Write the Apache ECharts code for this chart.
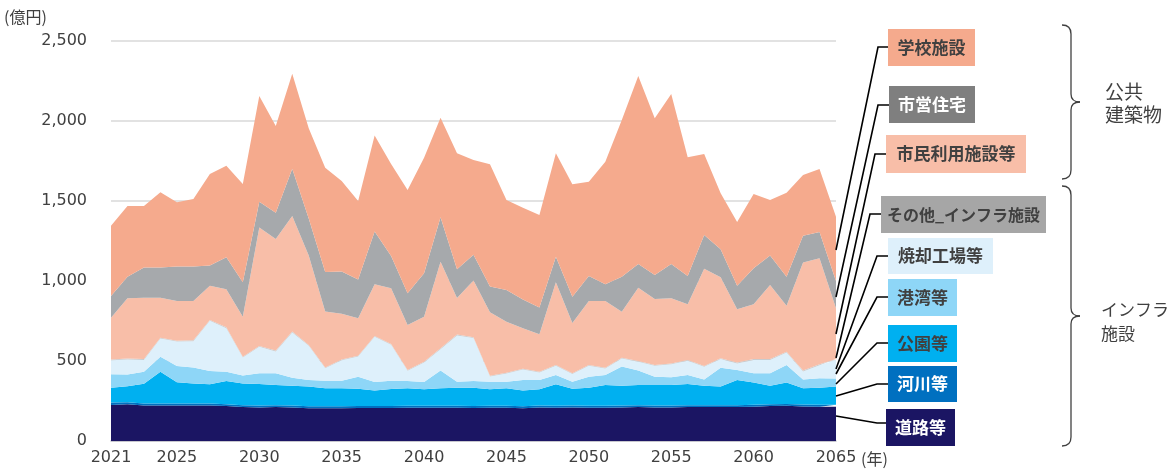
<!DOCTYPE html>
<html lang="ja">
<head>
<meta charset="UTF-8">
<title>更新費用の推計</title>
<script src="https://cdn.jsdelivr.net/npm/echarts@6/dist/echarts.min.js"></script>
<style>
  html, body { margin: 0; padding: 0; background: #fff; }
  #mainChart { width: 1173px; height: 471px; }
</style>
</head>
<body>
<div id="mainChart"></div>
<script>
// --- データ（単位：億円） ---
const years = ['2021','2022','2023','2024','2025','2026','2027','2028','2029','2030',
  '2031','2032','2033','2034','2035','2036','2037','2038','2039','2040',
  '2041','2042','2043','2044','2045','2046','2047','2048','2049','2050',
  '2051','2052','2053','2054','2055','2056','2057','2058','2059','2060',
  '2061','2062','2063','2064','2065'];

const yTicks = [0, 500, 1000, 1500, 2000, 2500];

// 下から積み上げる順
const roadData   = [225,230,222,222,222,222,222,218,212,210,212,210,205,205,205,206,207,207,208,208,208,208,206,208,208,205,210,208,210,208,208,210,212,210,210,212,212,212,212,214,218,220,216,214,214];
const riverData  = [15,12,12,12,12,12,12,12,12,12,12,12,12,12,12,12,12,12,12,12,12,12,12,12,12,12,12,12,12,12,12,12,12,12,12,12,12,12,12,12,12,12,12,12,12];
const parkData   = [93,100,124,199,133,126,120,145,136,134,126,124,123,112,112,109,96,106,109,103,109,113,115,103,109,98,101,134,105,113,130,124,126,128,128,132,122,116,157,139,116,133,101,107,114];
const portData   = [84,73,75,94,102,100,83,58,50,67,73,50,41,48,48,75,54,52,46,46,111,38,42,48,42,66,58,59,44,69,63,119,90,52,48,57,39,118,63,58,77,110,56,59,50];
const incinData  = [88,95,74,114,153,164,314,272,112,166,137,282,214,78,128,126,282,224,64,122,134,289,268,32,51,66,47,57,47,68,40,51,55,68,82,88,79,54,41,84,84,78,50,82,117];
const otherData  = [5,5,5,5,5,5,6,6,5,5,5,6,5,5,5,5,6,5,5,5,5,6,6,5,5,5,5,5,5,5,5,5,5,5,5,5,5,5,5,5,5,5,5,5,5];
const civicData  = [261,377,384,250,248,246,213,238,250,741,698,723,560,350,285,234,323,348,281,281,542,227,354,396,319,252,234,517,315,400,417,287,458,413,407,348,608,506,333,342,463,288,675,663,318];
const housingData= [135,135,189,189,215,215,127,200,215,161,164,294,230,246,265,243,329,202,198,271,277,181,161,161,198,181,168,160,164,156,104,219,148,150,214,177,211,175,148,225,185,181,168,164,170];
const schoolData = [440,442,384,469,402,422,571,571,614,660,542,594,564,652,565,490,600,575,646,723,623,725,593,764,562,573,578,646,702,590,767,979,1175,979,1063,742,506,350,398,465,346,525,380,394,402];

const seriesNames = ['道路等','河川等','公園等','港湾等','焼却工場等','その他_インフラ施設','市民利用施設等','市営住宅','学校施設'];
const seriesData  = [roadData, riverData, parkData, portData, incinData, otherData, civicData, housingData, schoolData];
const areaColors  = ['#1B1563','#0070C0','#00B0F0','#8ED6F7','#DEF0FB','#C9CCCF','#F8BEA8','#A6A9AC','#F5AA8D'];

// 右側ラベル（上から）: [名前, 箱の色, 文字色, x, y, 幅, 高さ, 文字サイズ]
const labelBoxes = [
  ['学校施設',           '#F5AA8D', '#404040', 888, 29, 87, 37, 17],
  ['市営住宅',           '#7F7F7F', '#ffffff', 889, 86, 86, 37, 17],
  ['市民利用施設等',     '#F8BEA8', '#404040', 886, 135, 140, 38, 17],
  ['その他_インフラ施設', '#A6A6A6', '#404040', 881, 196, 165, 37, 16],
  ['焼却工場等',         '#DEF0FB', '#404040', 888, 238, 105, 36, 17],
  ['港湾等',             '#8ED6F7', '#404040', 888, 279, 69, 37, 17],
  ['公園等',             '#00B0F0', '#404040', 888, 325, 69, 37, 17],
  ['河川等',             '#0070C0', '#ffffff', 888, 366, 69, 36, 17],
  ['道路等',             '#1B1563', '#ffffff', 886, 409, 69, 37, 17]
];

// 引き出し線（グラフ右端 → 折れ点 → 箱）
const leaderLines = [
  [[836,250],[878,47],[888,47]],
  [[836,297],[878,105],[889,105]],
  [[836,334],[875,154],[886,154]],
  [[836,358],[870,214],[881,214]],
  [[836,369],[877,256],[888,256]],
  [[836,374],[877,297],[888,297]],
  [[836,384],[877,343],[888,343]],
  [[836,396],[877,384],[888,384]],
  [[836,416],[877,423],[886,423]]
];

const JP_FONT = '"Noto Sans CJK JP", sans-serif';
const BRACE_STYLE = { stroke: '#404040', lineWidth: 1.3, fill: null };

// 中括弧（曲線と直線の組み合わせ）
function bracePieces(x, y1, y2) {
  const ym = (y1 + y2) / 2;
  const r = 9;
  return [
    { type: 'bezierCurve', shape: { x1: x, y1: y1, cpx1: x + r, cpy1: y1, x2: x + r, y2: y1 + r }, style: BRACE_STYLE },
    { type: 'line', shape: { x1: x + r, y1: y1 + r, x2: x + r, y2: ym - 8 }, style: BRACE_STYLE },
    { type: 'bezierCurve', shape: { x1: x + r, y1: ym - 8, cpx1: x + r, cpy1: ym, x2: x + 2 * r, y2: ym }, style: BRACE_STYLE },
    { type: 'bezierCurve', shape: { x1: x + 2 * r, y1: ym, cpx1: x + r, cpy1: ym, x2: x + r, y2: ym + 8 }, style: BRACE_STYLE },
    { type: 'line', shape: { x1: x + r, y1: ym + 8, x2: x + r, y2: y2 - r }, style: BRACE_STYLE },
    { type: 'bezierCurve', shape: { x1: x + r, y1: y2 - r, cpx1: x + r, cpy1: y2, x2: x, y2: y2 }, style: BRACE_STYLE }
  ];
}

function buildGraphics() {
  const g = [];
  // 単位
  g.push({ type: 'text', left: 4, top: 9,
    style: { text: '(億円)', font: '16px ' + JP_FONT, fill: '#404040' } });
  g.push({ type: 'text', left: 861, top: 451,
    style: { text: '(年)', font: '16px ' + JP_FONT, fill: '#404040' } });

  leaderLines.forEach(pts => {
    g.push({ type: 'polyline', shape: { points: pts },
      style: { stroke: '#000', lineWidth: 1.6, fill: null }, z: 10 });
  });

  labelBoxes.forEach(b => {
    g.push({ type: 'rect', shape: { x: b[3], y: b[4], width: b[5], height: b[6] },
      style: { fill: b[1] }, z: 11 });
    g.push({ type: 'text', x: b[3] + b[5] / 2, y: b[4] + b[6] / 2,
      style: { text: b[0], fill: b[2], font: 'bold ' + b[7] + 'px ' + JP_FONT,
        textAlign: 'center', textVerticalAlign: 'middle' }, z: 12 });
  });

  // グループの括弧と見出し
  bracePieces(1062, 25, 179).forEach(p => g.push(p));
  bracePieces(1062, 186, 446).forEach(p => g.push(p));
  g.push({ type: 'text', left: 1105, top: 80,
    style: { text: '公共\n建築物', font: '19px ' + JP_FONT, fill: '#404040', lineHeight: 23 } });
  g.push({ type: 'text', left: 1101, top: 298,
    style: { text: 'インフラ\n施設', font: '17px ' + JP_FONT, fill: '#404040', lineHeight: 24 } });
  return g;
}

function drawAreaChart() {
  const chartDom = document.getElementById('mainChart');
  const myChart = echarts.init(chartDom);

  const series = seriesNames.map((name, i) => ({
    name: name,
    type: 'line',
    stack: 'total',
    data: seriesData[i],
    symbol: 'none',
    lineStyle: { width: 0 },
    areaStyle: { color: areaColors[i], opacity: 1 },
    itemStyle: { color: areaColors[i] },
    emphasis: { disabled: true }
  }));

  const option = {
    animation: false,
    textStyle: { fontFamily: JP_FONT },
    grid: { left: 111, right: 337, top: 41, bottom: 30 },
    xAxis: {
      type: 'category',
      boundaryGap: false,
      data: years,
      axisLine: { lineStyle: { color: '#BFBFC8', width: 1.5 } },
      axisTick: { show: false },
      axisLabel: {
        // 2021年と5年ごとだけ表示
        interval: (idx, val) => idx === 0 || Number(val) % 5 === 0,
        color: '#404040',
        fontSize: 16,
        fontFamily: '"DejaVu Sans", sans-serif',
        margin: 9
      }
    },
    yAxis: {
      type: 'value',
      min: yTicks[0],
      max: yTicks[yTicks.length - 1],
      interval: 500,
      axisLine: { show: false },
      axisTick: { show: false },
      axisLabel: {
        formatter: v => v.toLocaleString('en-US'),
        color: '#404040',
        fontSize: 16,
        fontFamily: '"DejaVu Sans", sans-serif',
        margin: 24
      },
      splitLine: { lineStyle: { color: '#D9D9D9', width: 1.5 } }
    },
    series: series,
    graphic: buildGraphics()
  };

  myChart.setOption(option);
}

window.onload = function () {
  drawAreaChart();
};
</script>
</body>
</html>
